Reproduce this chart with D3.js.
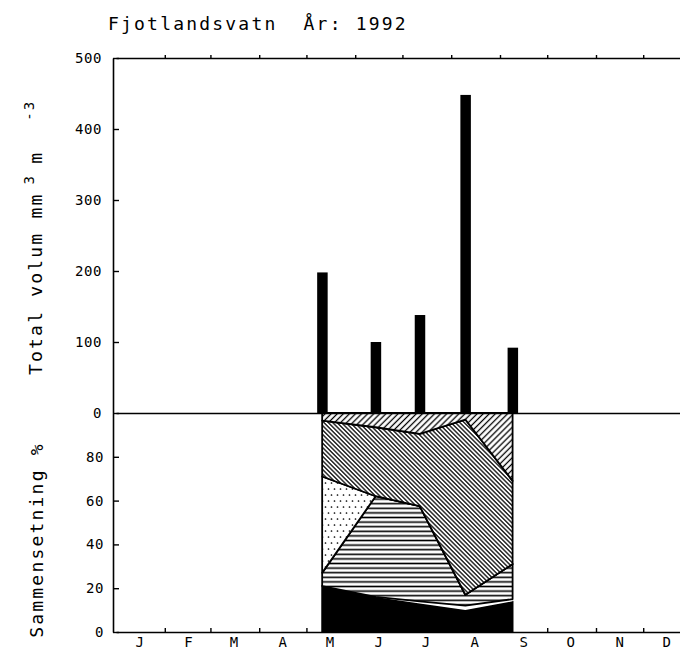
<!DOCTYPE html>
<html><head><meta charset="utf-8">
<script src="https://cdn.jsdelivr.net/npm/d3@7"></script>
<style>body{margin:0;background:#fff}svg{display:block}</style>
</head><body>
<svg id="c" width="680" height="654"></svg>
<script>
// ---- data ----
const monthLabels = ["J","F","M","A","M","J","J","A","S","O","N","D"];
const sampleDates = ["1992-05-11","1992-06-14","1992-07-12","1992-08-10","1992-09-09"];
const totalVolume = [198, 100, 138, 448, 92];          // mm3 m-3
const pctSolid    = [21, 16, 13, 10, 14];               // black
const pctBlank    = [0, 0, 1, 2, 1];                    // white
const pctHoriz    = [6, 46, 43.5, 5, 16];               // horizontal lines
const pctDots     = [44, 0, 0, 0, 0];                   // dotted
const pctDense    = [25.5, 31.5, 33, 80, 38];           // dense back-slash hatch
const pctSparse   = [3.5, 6.5, 9.5, 3, 31];             // sparse slash hatch
const volTicks = [0, 100, 200, 300, 400, 500];
const pctTicks = [0, 20, 40, 60, 80];

// ---- setup ----
const svg = d3.select("#c");
const parse = d3.timeParse("%Y-%m-%d");
const dates = sampleDates.map(parse);
const x = d3.scaleTime().domain([new Date(1992,0,1), new Date(1993,0,1)]).range([116, 692]);
const yTop = d3.scaleLinear().domain([0, 500]).range([413, 58]);
const yBot = d3.scaleLinear().domain([0, 100]).range([632, 413]);
const mono = "'DejaVu Sans Mono', monospace";

// ---- patterns ----
const defs = svg.append("defs");
function hatch(id, spacing, angle, width) {
  const p = defs.append("pattern").attr("id", id).attr("patternUnits", "userSpaceOnUse")
    .attr("width", spacing).attr("height", 10).attr("patternTransform", `rotate(${angle})`);
  p.append("rect").attr("width", spacing).attr("height", 10).attr("fill", "#fff");
  p.append("line").attr("x1", spacing/2).attr("x2", spacing/2).attr("y1", -1).attr("y2", 11)
    .attr("stroke", "#000").attr("stroke-width", width);
}
hatch("pDense", 3.1, -45, 1.25);
hatch("pSparse", 4.3, 45, 1.3);
{
  const p = defs.append("pattern").attr("id", "pHoriz").attr("patternUnits", "userSpaceOnUse")
    .attr("width", 10).attr("height", 4.6);
  p.append("rect").attr("width", 10).attr("height", 4.6).attr("fill", "#fff");
  p.append("line").attr("x1", 0).attr("x2", 10).attr("y1", 2.3).attr("y2", 2.3)
    .attr("stroke", "#000").attr("stroke-width", 1.6);
}
{
  const p = defs.append("pattern").attr("id", "pDots").attr("patternUnits", "userSpaceOnUse")
    .attr("width", 6).attr("height", 12);
  p.append("rect").attr("width", 6).attr("height", 12).attr("fill", "#fff");
  p.append("circle").attr("cx", 1.5).attr("cy", 3).attr("r", 0.85).attr("fill", "#000");
  p.append("circle").attr("cx", 4.5).attr("cy", 9).attr("r", 0.85).attr("fill", "#000");
}

// ---- composition (stacked %) ----
const layers = [
  {key: "solid",  vals: pctSolid,  fill: "#000",          stroke: "#000"},
  {key: "blank",  vals: pctBlank,  fill: "#fff",          stroke: "none"},
  {key: "horiz",  vals: pctHoriz,  fill: "url(#pHoriz)",  stroke: "#000"},
  {key: "dots",   vals: pctDots,   fill: "url(#pDots)",   stroke: "#000"},
  {key: "dense",  vals: pctDense,  fill: "url(#pDense)",  stroke: "#000"},
  {key: "sparse", vals: pctSparse, fill: "url(#pSparse)", stroke: "#000"}
];
const rows = dates.map((d, i) => {
  const r = {date: d};
  layers.forEach(l => r[l.key] = l.vals[i]);
  return r;
});
const stacked = d3.stack().keys(layers.map(l => l.key))(rows);
const area = d3.area().x(d => x(d.data.date)).y0(d => yBot(d[0])).y1(d => yBot(d[1]));
svg.append("g").selectAll("path").data(stacked).join("path")
  .attr("d", area)
  .attr("fill", (s, i) => layers[i].fill)
  .attr("stroke", (s, i) => layers[i].stroke)
  .attr("stroke-width", 1.8)
  .attr("stroke-linejoin", "round");

// ---- bars (total volume) ----
svg.append("g").selectAll("rect").data(dates).join("rect")
  .attr("x", d => x(d) - 5).attr("width", 10.5)
  .attr("y", (d, i) => yTop(totalVolume[i]))
  .attr("height", (d, i) => yTop(0) - yTop(totalVolume[i]))
  .attr("fill", "#000");

// ---- axes ----
const monthStarts = d3.timeMonth.range(new Date(1992,0,1), new Date(1993,0,1));
function styleAxis(g) {
  g.selectAll("path.domain").attr("stroke", "#000").attr("stroke-width", 1.6);
  g.selectAll(".tick line").attr("stroke", "#000").attr("stroke-width", 1.4);
  g.selectAll(".tick text").attr("font-family", mono).attr("font-size", 14)
    .attr("letter-spacing", 0.6).attr("fill", "#000");
}
// top frame
svg.append("g").attr("transform", `translate(0,${yTop(500)})`)
  .call(d3.axisTop(x).tickValues(monthStarts.slice(1)).tickSizeInner(3).tickSizeOuter(0).tickFormat(""))
  .call(styleAxis);
// middle zero line
svg.append("g").attr("transform", `translate(0,${yTop(0)})`)
  .call(d3.axisBottom(x).tickValues([]).tickSizeOuter(0))
  .call(styleAxis);
// bottom axis
svg.append("g").attr("transform", `translate(0,${yBot(0)})`)
  .call(d3.axisBottom(x).tickValues(monthStarts.slice(1)).tickSizeInner(-4).tickSizeOuter(0).tickFormat(""))
  .call(styleAxis);
// month labels
svg.append("g").selectAll("text").data(monthLabels).join("text")
  .attr("x", (m, i) => x(new Date(1992, i, 16)))
  .attr("y", 647)
  .attr("text-anchor", "middle")
  .attr("font-family", mono).attr("font-size", 14).text(m => m);
// left axes
svg.append("g").attr("transform", `translate(${x.range()[0] - 3},0)`)
  .call(d3.axisLeft(yTop).tickValues(volTicks).tickSizeInner(-6).tickSizeOuter(0).tickPadding(11).tickFormat(d3.format("d")))
  .call(styleAxis);
svg.append("g").attr("transform", `translate(${x.range()[0] - 3},0)`)
  .call(d3.axisLeft(yBot).tickValues(pctTicks).tickSizeInner(-6).tickSizeOuter(0).tickPadding(9).tickFormat(d3.format("d")))
  .call(styleAxis);

// ---- titles ----
svg.append("text").attr("x", 108).attr("y", 30)
  .attr("font-family", mono).attr("font-size", 18).attr("letter-spacing", 2.2)
  .style("white-space", "pre")
  .text("Fjotlandsvatn  År: 1992");

const yt = svg.append("text").attr("transform", "translate(42,375) rotate(-90)")
  .attr("font-family", mono).attr("font-size", 18).attr("letter-spacing", 2.2)
  .style("white-space", "pre");
yt.append("tspan").text("Total volum mm");
yt.append("tspan").attr("dx", 8).attr("dy", -8).attr("font-size", 14).text("3");
yt.append("tspan").attr("dx", 10).attr("dy", 8).text("m");
yt.append("tspan").attr("dx", 30).attr("dy", -8).attr("font-size", 14).text("-3");

svg.append("text").attr("transform", "translate(43,540) rotate(-90)")
  .attr("text-anchor", "middle")
  .attr("font-family", mono).attr("font-size", 18).attr("letter-spacing", 2.2)
  .style("white-space", "pre")
  .text("Sammensetning %");
</script>
</body></html>
